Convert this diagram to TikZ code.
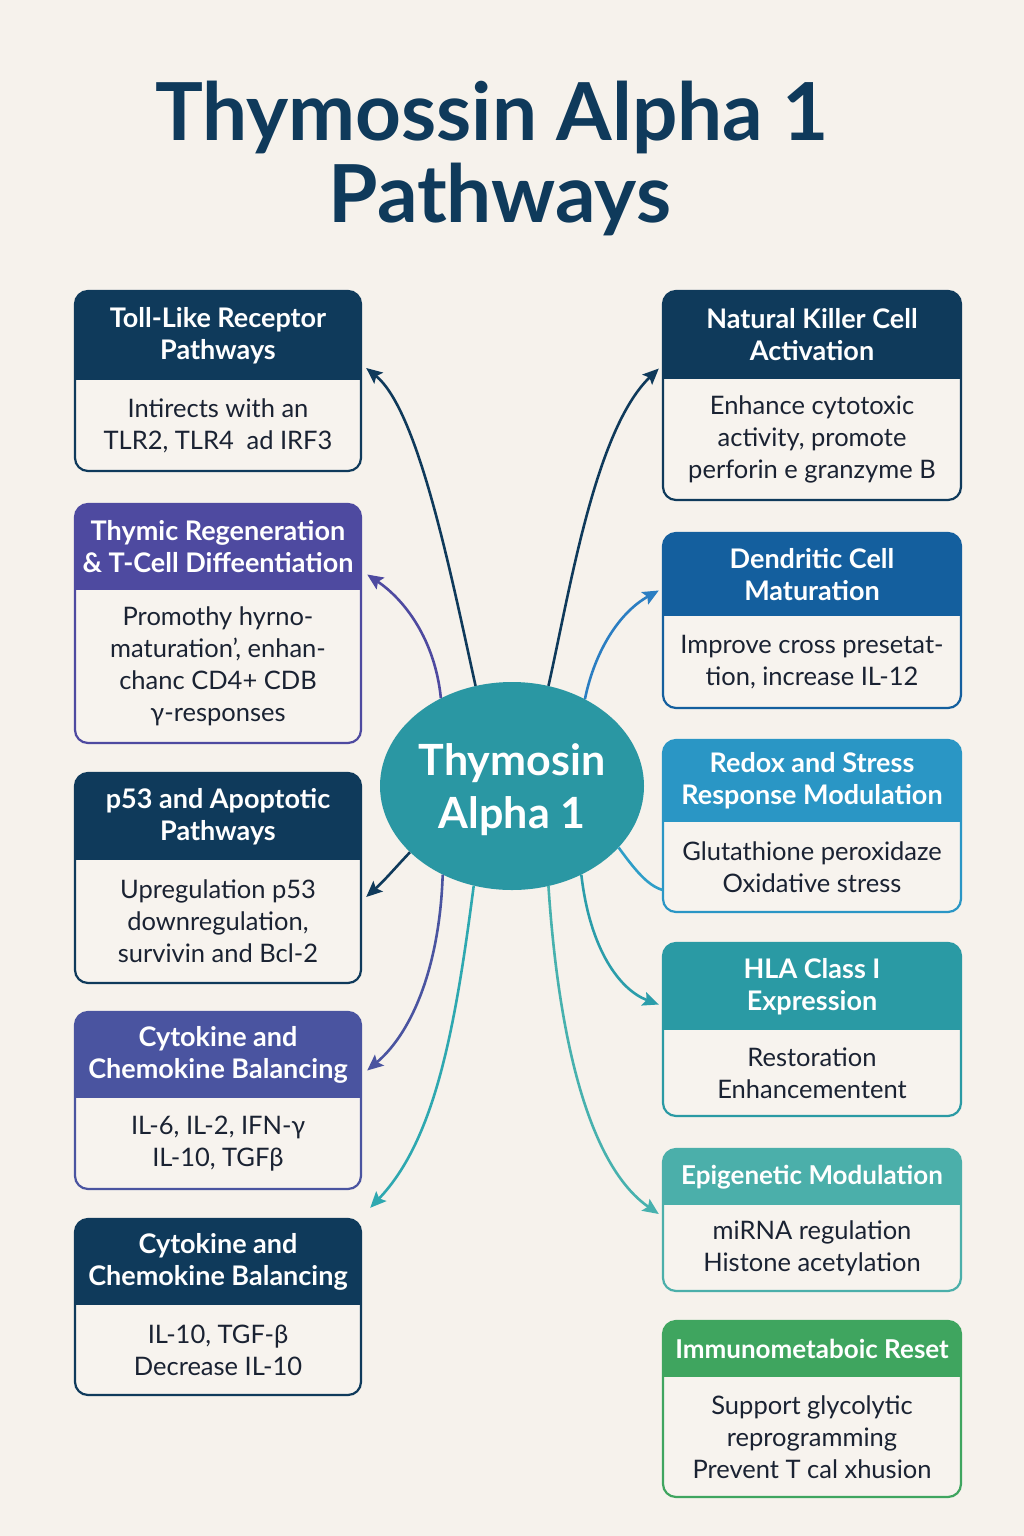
\documentclass[tikz,border=0pt]{standalone}
\usepackage{fontspec}
\setmainfont{Lato}
\usetikzlibrary{arrows.meta,calc,fit,shapes.geometric}
\definecolor{bg}{HTML}{F6F2EC}
\definecolor{bodyfill}{HTML}{F7F3EE}
\definecolor{txt}{HTML}{1A2232}
\definecolor{navy}{HTML}{0F3A5B}
\definecolor{purp}{HTML}{4E4AA0}
\definecolor{indi}{HTML}{4A54A0}
\definecolor{dcb}{HTML}{145F9E}
\definecolor{rdx}{HTML}{2A96C5}
\definecolor{hla}{HTML}{2A9AA4}
\definecolor{epi}{HTML}{4BAFAA}
\definecolor{imm}{HTML}{3FA55F}
\definecolor{ellc}{HTML}{2A97A3}
\definecolor{lteal}{HTML}{2EA8B0}
\definecolor{ldc}{HTML}{2B7EC2}
\definecolor{lrdx}{HTML}{2E9EC8}
\definecolor{lhla}{HTML}{2B9DAA}
\definecolor{lepi}{HTML}{47B1AE}
\tikzset{
  headtxt/.style={text=white, align=center, font=\fontsize{27}{32}\selectfont\bfseries, inner sep=0pt},
  bodytxt/.style={text=txt, align=center, font=\fontsize{25.5}{32}\selectfont, inner sep=0pt},
  conn/.style={line width=2.6pt, -{Stealth[length=16pt,width=14pt,inset=3pt]}},
  plainconn/.style={line width=2.6pt},
}
\newcommand\pwbox[9]{%
  \node[fit={(#2,#3) (#4,#5)}, inner sep=0pt] (#1) {};
  \begin{scope}
    \clip[rounded corners=13pt] (#2,#3) rectangle (#4,#5);
    \fill[bodyfill] (#2,#3) rectangle (#4,#5);
    \fill[#7] (#2,#3) rectangle (#4,#6);
  \end{scope}
  \draw[#7, line width=2.2pt, rounded corners=13pt] (#2,#3) rectangle (#4,#5);
  \node[headtxt] (#1-head) at ({(#2+#4)/2},{(#3+#6)/2}) {#8};
  \node[bodytxt] (#1-body) at ({(#2+#4)/2},{(#6+#5)/2}) {#9};
}
\begin{document}
\begin{tikzpicture}[x=1pt,y=-1pt]
\fill[bg] (0,0) rectangle (1024,1536);
\useasboundingbox (0,0) rectangle (1024,1536);

% title
\node[anchor=base, text=navy, font=\fontsize{80}{83}\selectfont\bfseries, inner sep=0pt] (title1) at (492,140) {Thymossin Alpha 1};
\node[anchor=base, text=navy, font=\fontsize{80}{83}\selectfont\bfseries, inner sep=0pt] (title2) at (500,222) {Pathways};

% left boxes
\pwbox{tlr}{75}{291}{361}{471}{380}{navy}{Toll-Like Receptor\\Pathways}{Intirects with an\\TLR2, TLR4\enspace ad IRF3}
\pwbox{thy}{75}{504}{361}{743}{590}{purp}{Thymic Regeneration\\\& T-Cell Diffeentiation}{Promothy hyrno-\\maturation’, enhan-\\chanc CD4+ CDB\\γ-responses}
\pwbox{p53}{75}{773}{361}{983}{860}{navy}{p53 and Apoptotic\\Pathways}{Upregulation p53\\downregulation,\\survivin and Bcl-2}
\pwbox{cyta}{75}{1012}{361}{1189}{1098}{indi}{Cytokine and\\Chemokine Balancing}{IL-6, IL-2, IFN-γ\\IL-10, TGFβ}
\pwbox{cytb}{75}{1219}{361}{1395}{1305}{navy}{Cytokine and\\Chemokine Balancing}{IL-10, TGF-β\\Decrease IL-10}

% right boxes
\pwbox{nk}{663}{291}{961}{500}{379}{navy}{Natural Killer Cell\\Activation}{Enhance cytotoxic\\activity, promote\\perforin e granzyme B}
\pwbox{dc}{663}{533}{961}{708}{616}{dcb}{Dendritic Cell\\Maturation}{Improve cross presetat-\\tion, increase IL-12}
\pwbox{rdx}{663}{740}{961}{912}{822}{rdx}{Redox and Stress\\Response Modulation}{Glutathione peroxidaze\\Oxidative stress}
\pwbox{hla}{663}{943}{961}{1116}{1030}{hla}{HLA Class I\\Expression}{Restoration\\Enhancementent}
\pwbox{epi}{663}{1149}{961}{1291}{1205}{epi}{\fontsize{26}{32}\selectfont Epigenetic Modulation}{miRNA regulation\\Histone acetylation}
\pwbox{imm}{663}{1321}{961}{1497}{1377}{imm}{\fontsize{26}{32}\selectfont Immunometaboic Reset}{Support glycolytic\\reprogramming\\Prevent T cal xhusion}

% center
\node[ellipse, fill=ellc, minimum width=264pt, minimum height=208pt, inner sep=0pt] (ell) at (512,786) {};
\node[text=white, align=center, font=\fontsize{43}{53}\selectfont\bfseries, inner sep=0pt] (elltext) at (512,790) {Thymosin\\Alpha 1};

% connectors
\draw[conn, navy] (ell.110) .. controls (450,570) and (418,410) .. ([shift={(5pt,13pt)}]tlr.east);
\draw[conn, purp] (ell.129) .. controls (435,640) and (405,600) .. ([shift={(6pt,49pt)}]thy.east);
\draw[conn, navy] (ell.213) .. controls (395,868) and (385,880) .. ([shift={(5pt,-19pt)}]p53.east);
\draw[conn, indi] (ell.232) .. controls (440,960) and (415,1030) .. ([shift={(6pt,30pt)}]cyta.east);
\draw[conn, lteal] (ell.249) .. controls (455,1030) and (435,1140) .. ([shift={(9pt,11pt)}]cytb.north east);
\draw[conn, navy] (ell.70) .. controls (570,590) and (595,430) .. ([shift={(-4pt,27pt)}]nk.west);
\draw[conn, ldc] (ell.50) .. controls (595,650) and (620,612) .. ([shift={(-4pt,30pt)}]dc.west);
\draw[plainconn, lrdx] (ell.-30) .. controls (635,870) and (648,886) .. ([shift={(0pt,-64pt)}]rdx.west);
\draw[conn, lhla] (ell.-52) .. controls (590,950) and (620,990) .. ([shift={(-4pt,25pt)}]hla.west);
\draw[conn, lepi] (ell.-70) .. controls (560,1060) and (595,1170) .. ([shift={(-4pt,6pt)}]epi.west);
\end{tikzpicture}
\end{document}
